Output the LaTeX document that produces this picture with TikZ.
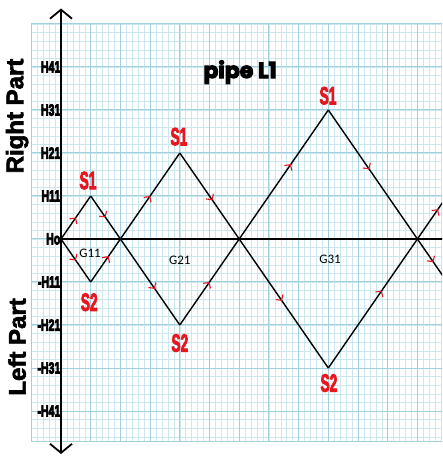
\documentclass[tikz,border=0pt]{standalone}
\usepackage{fontspec}
\setmainfont{Carlito}
\newfontfamily\titlefont{Poppins}
\newfontfamily\sidefont{Liberation Sans}
\usetikzlibrary{arrows.meta,decorations.markings}
\newcommand\heavytxt[2]{\special{pdf:literal direct q 2 Tr #1 w}#2\special{pdf:literal direct Q}}
\definecolor{gridminor}{RGB}{204,232,238}
\definecolor{gridmajor}{RGB}{160,208,222}
\definecolor{sred}{RGB}{232,22,30}
\tikzset{
  minorline/.style={gridminor,line width=0.5pt},
  majorline/.style={gridmajor,line width=1pt},
  zig/.style={black,line width=1.4pt},
  mk/.style={postaction={decorate,decoration={markings,
      mark=at position #1 with {\arrow[sred,line width=1.1pt]{Straight Barb[length=4pt,width=9pt]}}}}},
  slabel/.style={text=sred,font=\sidefont\bfseries\fontsize{25}{25}\selectfont,xscale=0.55,inner sep=0pt},
  glabel/.style={font=\fontsize{13}{13}\selectfont,inner sep=0pt},
  hlabel/.style={font=\sidefont\bfseries\fontsize{16}{16}\selectfont,xscale=0.66,anchor=east,inner sep=0pt},
  sidelabel/.style={font=\sidefont\bfseries\fontsize{24}{24}\selectfont,rotate=90,inner sep=0pt},
  axisline/.style={black,line width=1.8pt},
}
\begin{document}
\begin{tikzpicture}[x=29.7pt,y=43pt]
\useasboundingbox (-2.054,-5.093) rectangle (12.83,5.558);
\fill[white] (-2.054,-5.093) rectangle (12.83,5.558);
\clip (-2.054,-5.093) rectangle (12.83,5.558);
% grid
\foreach \i in {-5,...,64} {\draw[minorline] (\i/5,-4.7) -- (\i/5,5);}
\foreach \j in {-23,...,25} {\draw[minorline] (-1,\j/5) -- (13,\j/5);}
\foreach \i in {-1,...,13} {\draw[majorline] (\i,-4.7) -- (\i,5);}
\foreach \j in {-4,...,5} {\draw[majorline] (-1,\j) -- (13,\j);}
\draw[majorline] (-1,-4.7) -- (13,-4.7);
% axes
\coordinate (ytop) at (0,5.36);
\coordinate (ybot) at (0,-5.0);
\coordinate (xend) at (13,0);
\coordinate (A0) at (0,0);
\draw[axisline,{Straight Barb[length=9pt,width=22pt]}-{Straight Barb[length=9pt,width=22pt]}] (ybot) -- (ytop);
\draw[axisline] (A0) -- (xend);
% vertices
\coordinate (A1) at (2,0);
\coordinate (A2) at (6,0);
\coordinate (A3) at (12,0);
\coordinate (T1) at (1,1);
\coordinate (T2) at (4,2);
\coordinate (T3) at (9,3);
\coordinate (B1) at (1,-1);
\coordinate (B2) at (4,-2);
\coordinate (B3) at (9,-3);
\coordinate (E1) at (12.9,0.9);
\coordinate (E2) at (12.9,-0.9);
% zigzag
\draw[zig,mk=0.5] (A0) -- (T1);
\draw[zig,mk=0.5] (T1) -- (A1);
\draw[zig,mk=0.5] (A0) -- (B1);
\draw[zig,mk=0.6] (B1) -- (A1);
\draw[zig,mk=0.5] (A1) -- (T2);
\draw[zig,mk=0.55] (T2) -- (A2);
\draw[zig,mk=0.58] (A1) -- (B2);
\draw[zig,mk=0.5] (B2) -- (A2);
\draw[zig,mk=0.58] (A2) -- (T3);
\draw[zig,mk=0.46] (T3) -- (A3);
\draw[zig,mk=0.48] (A2) -- (B3);
\draw[zig,mk=0.6] (B3) -- (A3);
\draw[zig,mk=0.77] (A3) -- (E1);
\draw[zig,mk=0.6] (A3) -- (E2);
% labels
\node[slabel] (s1a) at (0.91,1.36) {\heavytxt{1}{S1}};
\node[slabel] (s1b) at (3.97,2.38) {\heavytxt{1}{S1}};
\node[slabel] (s1c) at (8.99,3.33) {\heavytxt{1}{S1}};
\node[slabel] (s2a) at (0.95,-1.47) {\heavytxt{1}{S2}};
\node[slabel] (s2b) at (4.0,-2.42) {\heavytxt{1}{S2}};
\node[slabel] (s2c) at (9.02,-3.35) {\heavytxt{1}{S2}};
\node[glabel] (g11) at (0.98,-0.33) {G11};
\node[glabel] (g21) at (4.0,-0.49) {G21};
\node[glabel] (g31) at (9.06,-0.47) {G31};
\node[font=\titlefont\bfseries\fontsize{22}{22}\selectfont,inner sep=0pt] (title) at (6.03,3.88) {\heavytxt{1}{pipe L1}};
\node[hlabel] (h41) at (-0.02,4) {\heavytxt{0.9}{H41}};
\node[hlabel] (h31) at (-0.02,3) {\heavytxt{0.9}{H31}};
\node[hlabel] (h21) at (-0.02,2) {\heavytxt{0.9}{H21}};
\node[hlabel] (h11) at (-0.02,1) {\heavytxt{0.9}{H11}};
\node[hlabel] (h0) at (-0.02,0) {\heavytxt{0.9}{Ho}};
\node[hlabel] (m11) at (-0.02,-1) {\heavytxt{0.9}{-H11}};
\node[hlabel] (m21) at (-0.02,-2) {\heavytxt{0.9}{-H21}};
\node[hlabel] (m31) at (-0.02,-3) {\heavytxt{0.9}{-H31}};
\node[hlabel] (m41) at (-0.02,-4) {\heavytxt{0.9}{-H41}};
\node[sidelabel] (right) at (-1.48,2.86) {\heavytxt{0.6}{Right Part}};
\node[sidelabel] (left) at (-1.48,-2.51) {\heavytxt{0.6}{Left Part}};
\end{tikzpicture}
\end{document}
